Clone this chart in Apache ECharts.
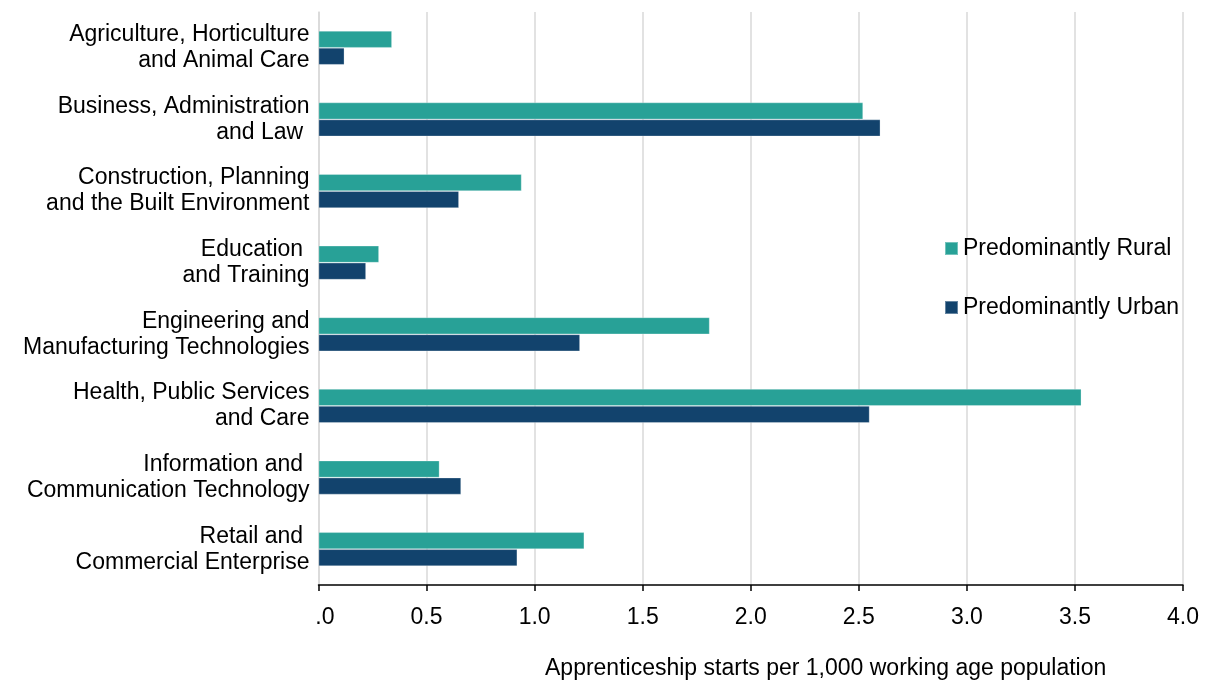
<!DOCTYPE html>
<html>
<head>
<meta charset="utf-8">
<style>
  html, body { margin: 0; padding: 0; background: #ffffff; }
  #chart { width: 1210px; height: 682px; }
</style>
<script src="https://cdn.jsdelivr.net/npm/echarts@6/dist/echarts.min.js"></script>
</head>
<body>
<div id="chart"></div>
<script>
// Apprenticeship starts per 1,000 working age population, by sector subject area
const categories = [
  'Agriculture, Horticulture\nand Animal Care',
  'Business, Administration\nand Law ',
  'Construction, Planning\nand the Built Environment',
  'Education \nand Training',
  'Engineering and\nManufacturing Technologies',
  'Health, Public Services\nand Care',
  'Information and \nCommunication Technology',
  'Retail and \nCommercial Enterprise'
];
const ruralValues = [0.34, 2.52, 0.94, 0.28, 1.81, 3.53, 0.56, 1.23];
const urbanValues = [0.12, 2.60, 0.65, 0.22, 1.21, 2.55, 0.66, 0.92];
const seriesNames = ['Predominantly Rural', 'Predominantly Urban'];
const axisTitle = 'Apprenticeship starts per 1,000 working age population';

const FONT = '"Liberation Sans", Arial, sans-serif';
const FS = 23;
const TEAL = '#28A197';
const NAVY = '#12436D';

const chart = echarts.init(document.getElementById('chart'), null, { renderer: 'canvas' });

chart.setOption({
  backgroundColor: '#ffffff',
  animation: false,
  textStyle: { fontFamily: FONT },
  title: {
    text: axisTitle,
    left: 545,
    top: 657,
    padding: 0,
    textStyle: { fontFamily: FONT, fontSize: FS, fontWeight: 'normal', color: '#000000' }
  },
  legend: {
    orient: 'vertical',
    left: 944,
    top: 237,
    padding: 0,
    itemWidth: 13,
    itemHeight: 13,
    itemGap: 36,
    icon: 'rect',
    data: seriesNames,
    textStyle: { fontFamily: FONT, fontSize: FS, color: '#000000' }
  },
  grid: {
    left: 318.5,
    right: 27,
    top: 12,
    bottom: 97,
    containLabel: false
  },
  xAxis: {
    type: 'value',
    min: 0,
    max: 4,
    interval: 0.5,
    axisLine: { show: true, lineStyle: { color: '#000000', width: 1.5 } },
    axisTick: { show: true, length: 6, lineStyle: { color: '#000000', width: 1.5 } },
    splitLine: { show: true, lineStyle: { color: '#d9d9d9', width: 1.5 } },
    axisLabel: {
      margin: 21,
      fontFamily: FONT,
      fontSize: FS,
      color: '#000000',
      formatter: function (v) {
        // the leading zero of the first tick sits under the category labels
        return v === 0 ? '{hid|0}.0' : v.toFixed(1);
      },
      rich: {
        hid: { color: 'rgba(0,0,0,0)', fontFamily: FONT, fontSize: FS }
      }
    }
  },
  yAxis: {
    type: 'category',
    inverse: true,
    data: categories,
    axisLine: { show: true, lineStyle: { color: '#d9d9d9', width: 1.5 } },
    axisTick: { show: false },
    splitLine: { show: false },
    axisLabel: {
      margin: 9,
      fontFamily: FONT,
      fontSize: FS,
      lineHeight: 26,
      padding: [8, 0, 0, 0],
      color: '#000000',
      align: 'right'
    }
  },
  series: [
    {
      name: seriesNames[0],
      type: 'bar',
      data: ruralValues,
      barWidth: 17,
      barGap: '0%',
      itemStyle: { color: TEAL, borderColor: 'rgba(255,255,255,0.35)', borderWidth: 0.8 }
    },
    {
      name: seriesNames[1],
      type: 'bar',
      data: urbanValues,
      barWidth: 17,
      barGap: '0%',
      itemStyle: { color: NAVY, borderColor: 'rgba(255,255,255,0.35)', borderWidth: 0.8 }
    }
  ]
});
</script>
</body>
</html>
